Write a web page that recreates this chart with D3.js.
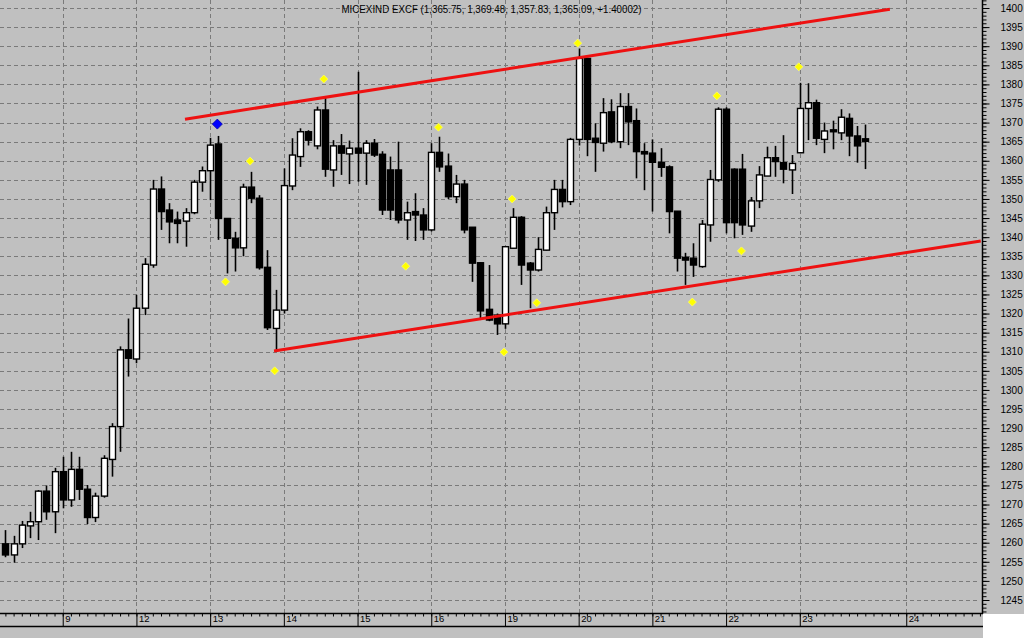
<!DOCTYPE html>
<html><head><meta charset="utf-8">
<script src="https://cdn.jsdelivr.net/npm/d3@7"></script>
<style>html,body{margin:0;padding:0;background:#fff;}svg{display:block;}</style>
</head><body>
<script>
// ---------- DATA ----------
const title = "MICEXIND EXCF (1,365.75, 1,369.48, 1,357.83, 1,365.09, +1.40002)";
const firstBarIndex = -7;
const openV = [1259.7,1256.8,1259.7,1264.4,1265.5,1273.5,1268.1,
 1278.6,1271.2,1279.2,1274.0,1266.6,1272.2,1281.8,1290.4,1310.5,
 1308.1,1321.4,1332.7,1352.6,1347.1,1344.5,1344.2,1346.4,1354.4,
 1357.4,1364.4,1344.9,1339.7,1337.2,1353.1,1350.2,1332.1,1316.1,
 1320.9,1353.4,1361.1,1367.6,1363.9,1373.3,1357.6,1363.9,1361.8,
 1363.3,1362.0,1364.6,1361.7,1357.6,1357.6,1344.5,1346.7,1345.8,
 1341.9,1362.2,1358.6,1350.6,1353.9,1342.6,1333.3,1321.1,
 1319.6,1317.3,1337.1,1345.2,1333.2,1331.4,1336.6,1346.4,1352.5,
 1349.3,1365.6,1386.8,1365.9,1364.6,1372.8,1365.0,1374.2,1370.5,
 1362.4,1362.0,1359.6,1358.4,1346.8,1334.7,1334.5,1332.3,1343.2,
 1355.0,1373.5,1357.8,1357.8,1342.9,1349.5,1356.0,1360.8,1359.5,1357.6,
 1362.1,1373.7,1375.2,1365.6,1368.1,1367.3,1371.1,1366.5,1365.75];
const highV = [1263.3,1261.8,1265.7,1268.1,1273.8,1275.0,1279.6,
 1282.5,1283.8,1282.5,1275.1,1273.1,1282.9,1291.3,1311.4,1318.7,
 1324.9,1334.5,1355.0,1355.9,1348.9,1346.7,1347.6,1355.0,1358.5,
 1366.0,1366.5,1345.0,1341.4,1354.0,1357.1,1351.0,1336.6,1326.2,
 1358.0,1365.9,1368.5,1368.0,1374.2,1376.4,1365.4,1367.0,1365.3,
 1383.3,1365.4,1365.7,1362.5,1361.1,1365.0,1349.3,1351.5,1347.6,
 1364.6,1366.3,1361.9,1356.3,1355.0,1342.6,1333.5,1332.7,
 1320.0,1337.7,1347.6,1345.5,1333.5,1340.0,1348.0,1355.0,1355.0,
 1366.0,1389.4,1387.0,1369.8,1376.4,1376.1,1377.7,1377.7,1373.7,
 1364.6,1365.6,1363.3,1358.8,1346.8,1335.9,1338.4,1344.5,1357.6,
 1374.0,1374.0,1358.0,1361.8,1350.5,1358.6,1363.7,1363.9,1366.7,1361.5,
 1380.4,1380.3,1376.0,1370.0,1370.5,1373.5,1372.4,1369.1,1369.48];
const lowV = [1256.2,1254.8,1258.6,1261.2,1260.7,1266.0,1262.5,
 1269.0,1269.4,1271.2,1264.9,1265.4,1271.8,1277.3,1283.8,1303.5,
 1307.0,1319.6,1332.0,1341.9,1338.4,1338.4,1337.5,1346.0,1351.9,
 1349.7,1339.3,1330.5,1331.0,1335.0,1348.9,1331.5,1315.7,1310.3,
 1320.0,1352.3,1358.4,1364.0,1363.0,1355.8,1353.2,1356.3,1353.9,
 1354.5,1353.7,1361.0,1345.8,1344.5,1343.6,1339.3,1339.0,1339.3,
 1341.5,1357.1,1350.0,1348.9,1341.0,1328.3,1318.3,1318.0,
 1314.4,1316.0,1337.0,1327.5,1321.4,1331.0,1336.5,1341.9,1347.8,
 1348.4,1364.0,1361.2,1357.1,1362.4,1364.6,1363.3,1364.1,1355.4,
 1352.3,1346.7,1355.8,1341.0,1331.0,1327.5,1329.6,1332.0,1338.8,
 1354.5,1341.0,1339.7,1340.6,1341.4,1347.6,1356.0,1355.8,1354.1,1351.3,
 1362.0,1365.4,1364.1,1362.0,1363.0,1365.4,1361.2,1359.5,1357.83];
const closeV = [1256.8,1259.7,1264.6,1265.5,1273.5,1268.1,1278.6,
 1271.2,1279.2,1274.0,1266.6,1272.2,1282.1,1290.4,1310.5,1308.3,
 1321.4,1332.9,1352.6,1346.7,1344.0,1343.6,1346.4,1354.4,1357.4,
 1364.1,1344.9,1339.7,1337.2,1353.1,1350.2,1332.0,1316.3,1320.9,
 1353.5,1361.5,1367.6,1365.4,1373.3,1357.8,1363.9,1362.0,1363.3,
 1362.0,1364.6,1361.5,1347.1,1347.1,1344.5,1346.4,1345.8,1341.9,
 1362.2,1358.4,1350.6,1353.9,1341.9,1333.2,1320.7,1318.3,
 1317.3,1337.5,1345.2,1332.7,1331.4,1336.8,1346.4,1352.5,1349.3,
 1365.6,1386.8,1365.6,1364.8,1372.6,1365.0,1374.2,1370.2,1362.4,
 1361.8,1359.6,1358.3,1346.7,1334.5,1334.0,1332.7,1343.4,1355.1,
 1373.5,1343.8,1343.8,1343.2,1349.5,1356.3,1360.8,1359.8,1357.8,1359.3,
 1373.7,1375.2,1365.9,1367.8,1367.6,1371.4,1366.5,1363.9,1365.09];

const dayLabels = ["9","12","13","14","15","16","19","20","21","22","23","24"];
const dayIndex  = [0,9,18,27,36,45,54,63,72,81,90,103];

const priceTicks = d3.range(1245, 1401, 5);

const upperLine = [[14.93,1370.9],[101.0,1399.7]];
const lowerLine = [[25.8,1310.2],[112.1,1339.0]];

const markerIdx   = [19,32,23,20,26,42,46,55,54,58,63,77,80,83,90];
const markerPrice = [1369.6,1381.4,1359.9,1328.3,1305.0,1332.4,1368.8,1350.0,1309.9,1322.8,1390.8,1323.0,1377.0,1336.4,1384.6];
const markerKind  = ["blue","yellow","yellow","yellow","yellow","yellow","yellow","yellow","yellow","yellow","yellow","yellow","yellow","yellow","yellow"];

// ---------- CHART ----------
const W = 1024, H = 638;
const plotR = 982, plotB = 613;
const svg = d3.select("body").append("svg").attr("width", W).attr("height", H);
svg.append("rect").attr("width", W).attr("height", H).attr("fill", "#c0c0c0");
svg.append("rect").attr("x", plotR + 1).attr("y", plotB + 1).attr("width", W - plotR).attr("height", H - plotB).attr("fill", "#ffffff");

const x = d3.scaleLinear().domain([-7.66, 112.25]).range([0, plotR]);
const y = d3.scaleLinear().domain([1400, 1245]).range([8, 600]);

const gridColor = "#7a7a7a";
// horizontal grid
svg.append("g").selectAll("line").data(priceTicks).join("line")
  .attr("x1", 0).attr("x2", plotR - 4)
  .attr("y1", d => Math.round(y(d)) + 0.5).attr("y2", d => Math.round(y(d)) + 0.5)
  .attr("stroke", gridColor).attr("stroke-width", 1).attr("stroke-dasharray", "4,3");
// vertical grid
svg.append("g").selectAll("line").data(dayIndex).join("line")
  .attr("x1", d => Math.round(x(d)) + 0.5).attr("x2", d => Math.round(x(d)) + 0.5)
  .attr("y1", 0).attr("y2", plotB)
  .attr("stroke", gridColor).attr("stroke-width", 1).attr("stroke-dasharray", "4,3");

// title
svg.append("text").attr("x", 341.5).attr("y", 12.5)
  .attr("font-family", "Liberation Sans, Arial, sans-serif").attr("font-size", 10)
  .attr("textLength", 300).attr("lengthAdjust", "spacingAndGlyphs")
  .attr("fill", "#000").text(title);

// candles
const bars = openV.map((o, i) => ({ i: firstBarIndex + i, o, h: highV[i], l: lowV[i], c: closeV[i] }));
const cg = svg.append("g");
cg.selectAll("line").data(bars).join("line")
  .attr("x1", d => Math.round(x(d.i)) + 0.5).attr("x2", d => Math.round(x(d.i)) + 0.5)
  .attr("y1", d => y(d.h)).attr("y2", d => y(d.l))
  .attr("stroke", "#000").attr("stroke-width", 1.6);
cg.selectAll("rect").data(bars).join("rect")
  .attr("x", d => Math.round(x(d.i)) - 2.5)
  .attr("width", 6)
  .attr("y", d => y(Math.max(d.o, d.c)))
  .attr("height", d => Math.max(1.5, Math.abs(y(d.o) - y(d.c))))
  .attr("fill", d => d.c < d.o ? "#000" : "#fff")
  .attr("stroke", "#000").attr("stroke-width", 1.4);

// trend lines
const lineGen = d3.line().x(d => x(d[0])).y(d => y(d[1]));
[upperLine, lowerLine].forEach(L => {
  svg.append("path").attr("d", lineGen(L)).attr("fill", "none")
    .attr("stroke", "#ee1111").attr("stroke-width", 3);
});

// markers
const markers = markerIdx.map((m, k) => ({ i: m, p: markerPrice[k], k: markerKind[k] }));
svg.append("g").selectAll("path").data(markers).join("path")
  .attr("transform", d => `translate(${x(d.i) - 1},${y(d.p)})`)
  .attr("d", d => d.k === "blue" ? "M0,-5L5,0L0,5L-5,0Z" : "M0,-4L4,0L0,4L-4,0Z")
  .attr("fill", d => d.k === "blue" ? "#0000ff" : "#ffff00")
  .attr("stroke", d => d.k === "blue" ? "#0000aa" : "#ffff66").attr("stroke-width", 0.8);

// right axis
const yMinor = d3.range(1242, 1403, 1);
const rAxisMinor = d3.axisRight(y).tickValues(yMinor).tickSize(4).tickFormat("");
svg.append("g").attr("transform", `translate(${plotR + 0.5},0)`).call(rAxisMinor)
  .call(g => g.select(".domain").remove())
  .selectAll("line").attr("stroke", "#000");
const rAxis = d3.axisRight(y).tickValues(priceTicks).tickSize(7).tickPadding(11).tickFormat(d3.format("d"));
svg.append("g").attr("transform", `translate(${plotR + 0.5},0)`).call(rAxis)
  .call(g => g.select(".domain").remove())
  .call(g => g.selectAll("line").attr("stroke", "#000"))
  .call(g => g.selectAll("text").attr("font-family", "Liberation Sans, Arial, sans-serif").attr("font-size", 10).attr("fill", "#000"));
svg.append("line").attr("x1", plotR + 0.5).attr("x2", plotR + 0.5).attr("y1", 0).attr("y2", plotB + 1)
  .attr("stroke", "#000").attr("stroke-width", 1.5);

// bottom axis
const xMinor = d3.range(-7, 113, 1);
const bAxisMinor = d3.axisBottom(x).tickValues(xMinor).tickSize(3).tickFormat("");
svg.append("g").attr("transform", `translate(0,${plotB + 0.5})`).call(bAxisMinor)
  .call(g => g.select(".domain").remove())
  .selectAll("line").attr("stroke", "#000");
const bAxis = d3.axisBottom(x).tickValues(dayIndex).tickSize(13).tickFormat((d, k) => dayLabels[k]);
svg.append("g").attr("transform", `translate(0,${plotB + 0.5})`).call(bAxis)
  .call(g => g.select(".domain").remove())
  .call(g => g.selectAll("line").attr("stroke", "#000"))
  .call(g => g.selectAll("text").attr("text-anchor", "start").attr("x", 2).attr("y", 2)
     .attr("dy", "0.71em").attr("font-family", "Liberation Sans, Arial, sans-serif")
     .attr("font-size", 9.5).attr("fill", "#000"));
svg.append("line").attr("x1", 0).attr("x2", plotR + 1).attr("y1", plotB + 0.5).attr("y2", plotB + 0.5)
  .attr("stroke", "#000").attr("stroke-width", 1.5);
svg.append("line").attr("x1", 0).attr("x2", plotR + 1).attr("y1", 626.5).attr("y2", 626.5)
  .attr("stroke", "#000").attr("stroke-width", 1.5);
</script>
</body></html>
